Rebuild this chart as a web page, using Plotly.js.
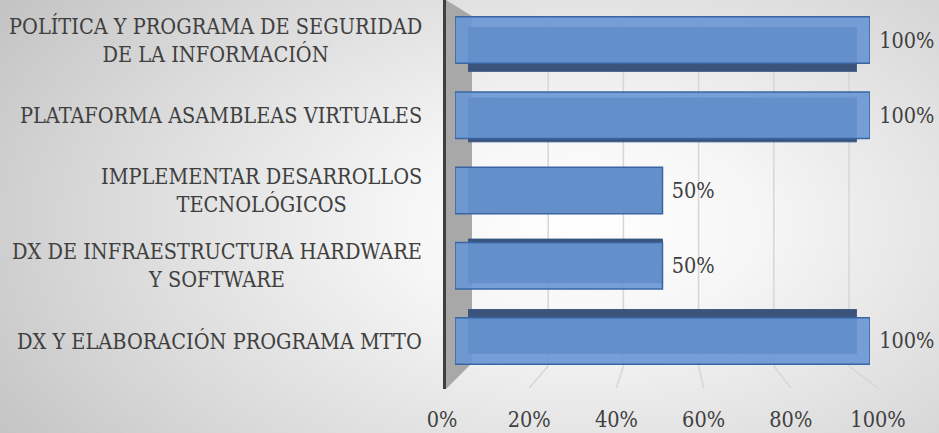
<!DOCTYPE html>
<html>
<head>
<meta charset="utf-8">
<script src="https://cdn.plot.ly/plotly-3.0.1.min.js"></script>
<style>
  html, body { margin: 0; padding: 0; }
  #chart {
    width: 939px; height: 433px;
    background: radial-gradient(ellipse 75% 95% at 62% 52%, #ffffff 0%, #f6f6f6 25%, #d8d8d8 70%, #c2c2c2 100%);
  }
</style>
</head>
<body>
<div id="chart"></div>
<script>
// ---- data ----
var categories = [
  "DX Y ELABORACIÓN PROGRAMA MTTO",
  "DX DE INFRAESTRUCTURA HARDWARE<br>Y SOFTWARE",
  "IMPLEMENTAR DESARROLLOS<br>TECNOLÓGICOS",
  "PLATAFORMA ASAMBLEAS VIRTUALES",
  "POLÍTICA Y PROGRAMA DE SEGURIDAD<br>DE LA INFORMACIÓN"
];
var values = [100, 50, 50, 100, 100];
var tickValues = [0, 20, 40, 60, 80, 100];
var tickLabels = ["0%", "20%", "40%", "60%", "80%", "100%"];

// ---- layout geometry (pixels in a 939x433 page) ----
var W = 939, H = 433;
function px(x) { return x / W; }
function py(y) { return 1 - y / H; }
var FONT = "DejaVu Serif Condensed, DejaVu Serif, serif";
var FS = 21.5;
var TXT = "#404040";

// front faces of bars, back faces (perspective-scaled), floor front edge, back wall
var frontX = [455, 870], frontY = [2.4, 378.6];
var vp = [662, 190], depthScale = 0.937;           // vanishing point & depth shrink
function toBack(v, c) { return c + depthScale * (v - c); }
var backFaceX = [toBack(frontX[0], vp[0]), toBack(frontX[1], vp[0])];
var backFaceY = [toBack(frontY[0], vp[1]), toBack(frontY[1], vp[1])];
var floorDom = [442, 878], backDom = [473, 849];
var backTop = 16, backBottom = 366, floorFront = 388;

function mapX(dom, v) { return dom[0] + (dom[1] - dom[0]) * v / 100; }

var shapes = [];
// side wall
shapes.push({
  type: "path", xref: "paper", yref: "paper", layer: "below",
  path: "M " + px(446) + "," + py(0) + " L " + px(472) + "," + py(backTop) +
        " L " + px(472) + "," + py(backBottom - 3) + " L " + px(446) + "," + py(floorFront + 1) + " Z",
  fillcolor: "#a8a8a8", line: {width: 0}
});
// back-wall gridlines and floor lines
tickValues.slice(1).forEach(function (v) {
  shapes.push({
    type: "line", xref: "paper", yref: "paper", layer: "below",
    x0: px(mapX(backDom, v)), y0: py(backTop),
    x1: px(mapX(backDom, v)), y1: py(backBottom),
    line: {color: "#d6d6d6", width: 1.5}
  });
  shapes.push({
    type: "line", xref: "paper", yref: "paper", layer: "below",
    x0: px(mapX(backDom, v)), y0: py(backBottom),
    x1: px(mapX(floorDom, v)), y1: py(floorFront),
    line: {color: "#d6d6d6", width: 1.5}
  });
});
// vertical axis line
shapes.push({
  type: "line", xref: "paper", yref: "paper",
  x0: px(444.5), y0: py(0), x1: px(444.5), y1: py(floorFront + 1),
  line: {color: "#3f3f3f", width: 3}
});

var annotations = categories.map(function (c) {
  return {
    xref: "paper", yref: "y3", x: px(424), y: c, xanchor: "right", yanchor: "middle",
    align: "center", showarrow: false, text: c,
    font: {family: FONT, size: FS, color: TXT}
  };
});

var catAxis = {type: "category", categoryorder: "array", categoryarray: categories,
               range: [-0.5, 4.5], fixedrange: true, showgrid: false, zeroline: false,
               showticklabels: false, showline: false};

var traces = [
  { // back faces of the bars (show as the dark depth strips)
    type: "bar", orientation: "h", x: values, y: categories,
    xaxis: "x", yaxis: "y", width: 0.62,
    marker: {color: "rgb(58,84,124)", line: {color: "rgb(55,85,130)", width: 1}},
    hoverinfo: "skip"
  },
  { // carries the percentage scale along the front floor edge
    type: "scatter", mode: "markers", x: tickValues, y: tickValues.map(function(){return 0;}),
    xaxis: "x2", yaxis: "y2", marker: {opacity: 0}, hoverinfo: "skip"
  },
  { // front faces of the bars
    type: "bar", orientation: "h", x: values, y: categories,
    xaxis: "x3", yaxis: "y3", width: 0.62,
    marker: {color: "rgba(104,150,212,0.9)", line: {color: "#3a65a3", width: 1.5}},
    texttemplate: " %{x}%", textposition: "outside", cliponaxis: false,
    textfont: {family: FONT, size: FS, color: TXT},
    hoverinfo: "skip"
  }
];

var layout = {
  width: W, height: H,
  margin: {l: 0, r: 0, t: 0, b: 0},
  paper_bgcolor: "rgba(0,0,0,0)", plot_bgcolor: "rgba(0,0,0,0)",
  showlegend: false,
  font: {family: FONT, color: TXT},
  xaxis: {domain: [px(backFaceX[0]), px(backFaceX[1])], range: [0, 100], fixedrange: true,
          showgrid: false, zeroline: false, showticklabels: false, showline: false},
  yaxis: Object.assign({domain: [py(backFaceY[1]), py(backFaceY[0])], anchor: "x"}, catAxis),
  xaxis2: {domain: [px(floorDom[0]), px(floorDom[1])], range: [0, 100], anchor: "free",
           position: py(404), side: "bottom", tickvals: tickValues, ticktext: tickLabels,
           ticks: "", showgrid: false, zeroline: false, showline: false,
           tickfont: {family: FONT, size: FS, color: TXT}, fixedrange: true},
  yaxis2: {domain: [py(backBottom), py(backTop)], range: [0, 1], anchor: "x2",
           visible: false, fixedrange: true},
  xaxis3: {domain: [px(frontX[0]), px(frontX[1])], range: [0, 100], anchor: "y3", fixedrange: true,
           showgrid: false, zeroline: false, showticklabels: false, showline: false},
  yaxis3: Object.assign({domain: [py(frontY[1]), py(frontY[0])], anchor: "x3"}, catAxis),
  shapes: shapes,
  annotations: annotations
};

Plotly.newPlot("chart", traces, layout, {displayModeBar: false, staticPlot: true});
</script>
</body>
</html>
